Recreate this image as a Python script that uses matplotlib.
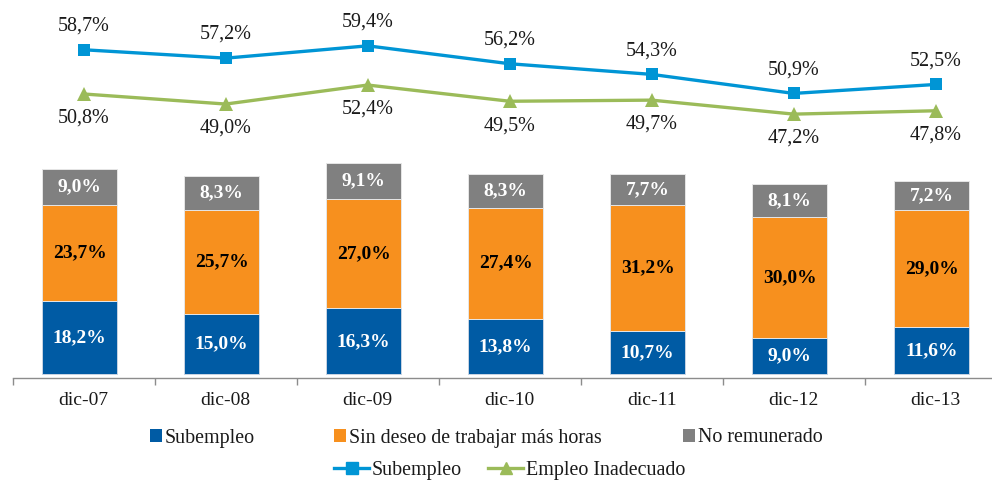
import matplotlib
matplotlib.use("Agg")
import matplotlib.pyplot as plt
from matplotlib.patches import Patch
from matplotlib.lines import Line2D
import numpy as np

# data
periods = ["dic-07", "dic-08", "dic-09", "dic-10", "dic-11", "dic-12", "dic-13"]
subempleo_bar = [18.2, 15.0, 16.3, 13.8, 10.7, 9.0, 11.6]
sin_deseo = [23.7, 25.7, 27.0, 27.4, 31.2, 30.0, 29.0]
no_remunerado = [9.0, 8.3, 9.1, 8.3, 7.7, 8.1, 7.2]
subempleo_line = [58.7, 57.2, 59.4, 56.2, 54.3, 50.9, 52.5]
inadecuado_line = [50.8, 49.0, 52.4, 49.5, 49.7, 47.2, 47.8]

C_BLUE = "#005BA4"
C_ORANGE = "#F7901E"
C_GRAY = "#808080"
C_LBLUE = "#0095D5"
C_GREEN = "#9BBB59"
TXT = "#1a1a1a"

plt.rcParams.update({
    "font.family": ["Liberation Serif", "DejaVu Serif"],
    "font.size": 14,
    "text.color": TXT,
})


def pct(v):
    return f"{v:.1f}%".replace(".", ",")


fig = plt.figure(figsize=(9.92, 4.82), dpi=100)
ax = fig.add_axes([0.0128, 0.2151, 1.002, 0.7676])
x = np.arange(len(periods))
xb = x - 0.028  # bars sit slightly left of the category centre
w = 0.53

b1 = ax.bar(xb, subempleo_bar, w, color=C_BLUE, edgecolor="#c8d4e3", linewidth=0.7)
b2 = ax.bar(xb, sin_deseo, w, bottom=subempleo_bar, color=C_ORANGE,
            edgecolor="#e6e6e6", linewidth=0.7)
bot3 = np.array(subempleo_bar) + np.array(sin_deseo)
b3 = ax.bar(xb, no_remunerado, w, bottom=bot3, color=C_GRAY,
            edgecolor="#e6e6e6", linewidth=0.7)

ax.bar_label(b1, labels=[pct(v) for v in subempleo_bar], label_type="center",
             color="white", fontweight="bold", fontsize=14)
ax.bar_label(b2, labels=[pct(v) for v in sin_deseo], label_type="center",
             color="black", fontweight="bold", fontsize=14)
ax.bar_label(b3, labels=[pct(v) for v in no_remunerado], label_type="center",
             color="white", fontweight="bold", fontsize=14)

ax.set_xlim(-0.5, len(periods) - 0.5)
ax.set_ylim(-1.0, 90.6)
for s in ["left", "right", "top"]:
    ax.spines[s].set_visible(False)
ax.spines["bottom"].set_position(("data", -1.0))
ax.spines["bottom"].set_color("#8c8c8c")
ax.spines["bottom"].set_linewidth(1.0)
ax.set_yticks([])
ax.set_xticks(x)
ax.set_xticklabels(periods, fontsize=14)
ax.tick_params(axis="x", which="major", length=0, pad=10, colors=TXT)
ax.set_xticks(np.arange(-0.5, len(periods), 1.0), minor=True)
ax.tick_params(axis="x", which="minor", length=5, width=1.0, color="#8c8c8c", direction="out")

ax2 = ax.twinx()
ax2.set_ylim(0, 66.1)
for s in ax2.spines.values():
    s.set_visible(False)
ax2.set_yticks([])
ax2.plot(x, subempleo_line, color=C_LBLUE, lw=2.4, marker="s", markersize=9,
         markeredgewidth=0)
ax2.plot(x, inadecuado_line, color=C_GREEN, lw=2.4, marker="^", markersize=9.5,
         markeredgewidth=0)
for xi, v in zip(x, subempleo_line):
    ax2.annotate(pct(v), (xi, v), xytext=(0, 17), textcoords="offset points",
                 ha="center", va="center", fontsize=14.5, color=TXT)
for xi, v in zip(x, inadecuado_line):
    ax2.annotate(pct(v), (xi, v), xytext=(0, -17.5), textcoords="offset points",
                 ha="center", va="center", fontsize=14.5, color=TXT)


# legend entries placed one by one, as in the original layout
def add_entry(handle, label, xpix, ypix, hl, hh=0.7):
    return fig.legend([handle], [label], loc="center left",
                      bbox_to_anchor=(xpix / 992, 1 - ypix / 482), frameon=False,
                      handlelength=hl, handleheight=hh, handletextpad=0.15,
                      borderpad=0, borderaxespad=0, fontsize=14.4)


add_entry(Patch(facecolor=C_BLUE), "Subempleo", 150, 438, 0.6, 0.6)
add_entry(Patch(facecolor=C_ORANGE), "Sin deseo de trabajar más horas", 334, 438, 0.6, 0.6)
add_entry(Patch(facecolor=C_GRAY), "No remunerado", 683, 438, 0.6, 0.6)
add_entry(Line2D([], [], color=C_LBLUE, lw=2.4, marker="s", markersize=8),
          "Subempleo", 334, 470, 1.75)
add_entry(Line2D([], [], color=C_GREEN, lw=2.4, marker="^", markersize=8),
          "Empleo Inadecuado", 488, 470, 1.75)

fig.savefig("out.png", dpi=100)
